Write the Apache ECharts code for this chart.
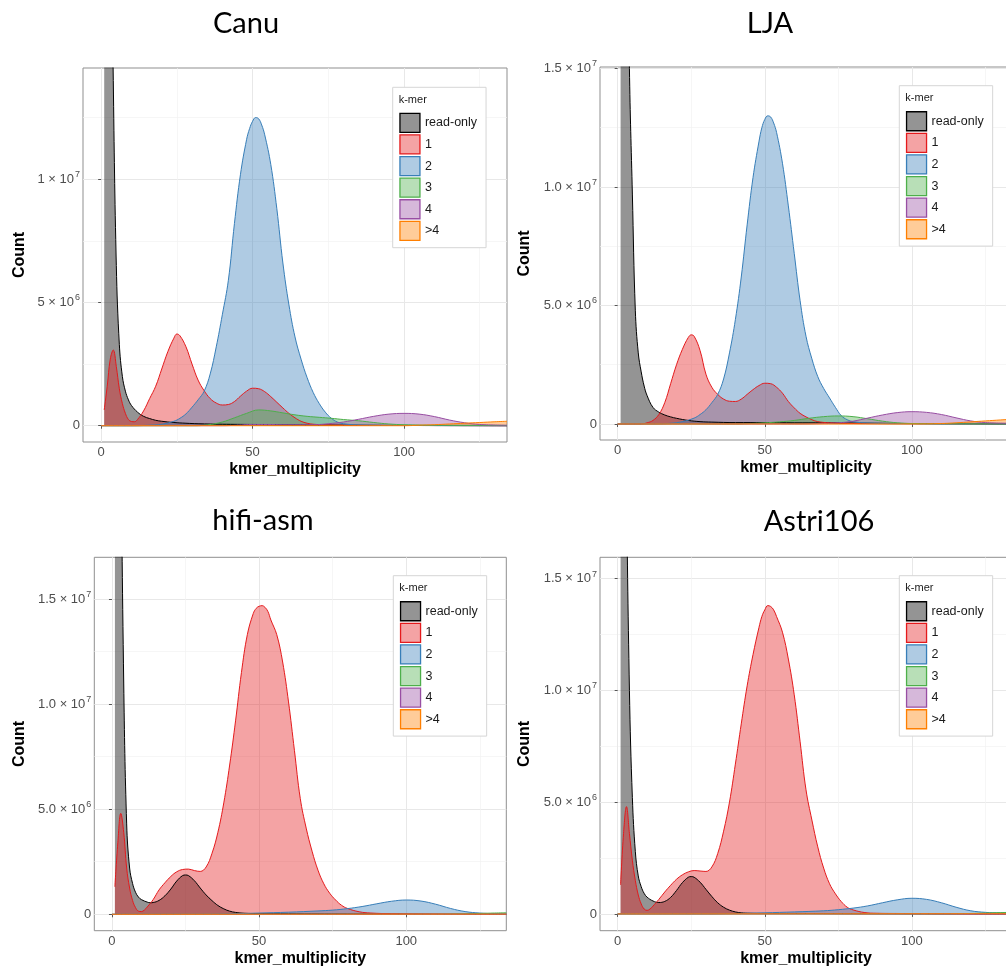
<!DOCTYPE html>
<html>
<head>
<meta charset="utf-8">
<script src="https://cdn.jsdelivr.net/npm/echarts@6/dist/echarts.min.js"></script>
<style>
  html, body { margin: 0; padding: 0; overflow: hidden; background: #fff; }
  #chart { width: 1020px; height: 968px; }
</style>
</head>
<body>
<div id="chart"></div>
<script>
// k-mer classes and colours (ggplot Set1 style)
const kmerNames = ['read-only', '1', '2', '3', '4', '>4'];
const lineColors = ['#000000', '#E41A1C', '#377EB8', '#4DAF4A', '#984EA3', '#FF7F00'];
const fillColors = ['rgba(0,0,0,0.42)', 'rgba(228,26,28,0.4)', 'rgba(55,126,184,0.4)',
  'rgba(77,175,74,0.4)', 'rgba(152,78,163,0.4)', 'rgba(255,127,0,0.4)'];

const xTicks = [0, 50, 100];
const xMinorTicks = [25, 75, 125];
const canuYTicks = [0, 5e6, 1e7];
const canuYLabels = ['0', '5 × 10^6', '1 × 10^7'];
const yTicks = [0, 5e6, 1e7, 1.5e7];
const yLabels = ['0', '5.0 × 10^6', '1.0 × 10^7', '1.5 × 10^7'];
const yMinorTicks = [2.5e6, 7.5e6, 1.25e7];

// [kmer_multiplicity, count in millions]
const canuReadOnly = [[1,95],[2,48],[3,25],[4,14],[5,6.5],[6,3.3],[7,2.0],[8,1.4],[9,1.05],[10,0.82],[12,0.55],[14,0.38],[16,0.29],[18,0.22],[20,0.18],[24,0.13],[28,0.1],[32,0.08],[40,0.06],[50,0.05],[60,0.04],[70,0.03],[80,0.02],[100,0.01],[134,0]];
const canuK1 = [[1,0.64],[2,1.6],[3,2.7],[4,3.07],[5,2.4],[6,1.5],[7,0.9],[8,0.5],[9,0.25],[10,0.17],[11,0.16],[12,0.25],[14,0.6],[16,1.1],[18,1.6],[20,2.3],[22,3.0],[24,3.55],[25,3.72],[26,3.65],[28,3.2],[30,2.5],[32,1.85],[34,1.42],[36,1.1],[38,0.92],[40,0.84],[42,0.86],[44,0.98],[46,1.2],[48,1.4],[50,1.52],[52,1.5],[54,1.38],[56,1.18],[58,0.95],[60,0.72],[62,0.5],[64,0.32],[66,0.18],[68,0.1],[70,0.06],[75,0.03],[80,0.02],[100,0.01],[134,0]];
const canuK2 = [[0,0],[10,0],[16,0.02],[20,0.06],[24,0.18],[26,0.3],[28,0.48],[30,0.75],[32,1.05],[34,1.4],[36,2.1],[38,3.2],[40,4.5],[42,5.9],[44,8.2],[46,10.2],[48,11.6],[49,12.05],[50,12.35],[51,12.5],[52,12.45],[53,12.2],[54,11.8],[56,10.6],[58,8.8],[60,6.6],[62,4.9],[64,3.6],[66,2.7],[68,1.95],[70,1.35],[72,0.9],[74,0.55],[76,0.3],[78,0.15],[80,0.08],[85,0.03],[100,0.01],[134,0]];
const canuK3 = [[0,0],[30,0],[35,0.03],[40,0.15],[44,0.32],[48,0.5],[52,0.64],[56,0.6],[60,0.52],[64,0.44],[68,0.38],[72,0.34],[76,0.3],[80,0.25],[85,0.2],[90,0.13],[95,0.07],[100,0.04],[110,0.02],[134,0.01]];
const canuK4 = [[0,0],[40,0],[45,0.02],[50,0.05],[55,0.05],[60,0.04],[70,0.04],[75,0.08],[80,0.15],[85,0.26],[90,0.38],[95,0.47],[100,0.5],[105,0.47],[110,0.37],[115,0.23],[120,0.12],[125,0.05],[134,0.02]];
const canuK5 = [[0,0],[100,0],[105,0.02],[110,0.04],[115,0.07],[120,0.1],[125,0.13],[130,0.16],[134,0.18]];

const ljaReadOnly = [[1,95],[2,50],[3,26],[4,15],[5,9.7],[6,4.8],[7,3.0],[8,2.2],[9,1.6],[10,1.2],[12,0.7],[14,0.5],[16,0.38],[18,0.3],[20,0.24],[24,0.15],[28,0.1],[32,0.08],[40,0.06],[50,0.06],[60,0.05],[70,0.05],[80,0.04],[90,0.03],[100,0.02],[134,0]];
const ljaK1 = [[0,0],[8,0],[10,0.05],[12,0.15],[14,0.4],[16,0.9],[18,1.7],[20,2.5],[22,3.15],[24,3.65],[25,3.76],[26,3.7],[28,3.1],[30,2.1],[32,1.55],[34,1.25],[36,1.05],[38,0.96],[40,0.95],[42,1.05],[44,1.25],[46,1.45],[48,1.62],[50,1.72],[52,1.7],[54,1.55],[56,1.3],[58,0.95],[60,0.68],[62,0.45],[64,0.3],[66,0.18],[68,0.1],[72,0.05],[80,0.02],[100,0.01],[134,0]];
const ljaK2 = [[0,0],[12,0],[18,0.03],[22,0.1],[26,0.25],[28,0.4],[30,0.6],[32,0.9],[34,1.25],[36,1.9],[38,3.0],[40,4.4],[42,6.2],[44,8.4],[46,10.4],[48,11.9],[49,12.5],[50,12.85],[51,13.0],[52,12.95],[53,12.7],[54,12.3],[56,11.0],[58,9.2],[60,7.2],[62,5.2],[64,3.7],[66,2.75],[68,2.0],[70,1.5],[72,1.1],[74,0.7],[76,0.35],[78,0.18],[80,0.1],[85,0.04],[100,0.01],[134,0]];
const ljaK3 = [[0,0],[40,0],[45,0.02],[50,0.05],[55,0.09],[60,0.15],[65,0.24],[70,0.31],[75,0.34],[80,0.31],[85,0.22],[90,0.12],[95,0.05],[100,0.02],[110,0.01],[134,0]];
const ljaK4 = [[0,0],[60,0],[70,0.02],[75,0.05],[80,0.12],[85,0.25],[90,0.38],[95,0.48],[100,0.52],[105,0.49],[110,0.4],[115,0.26],[120,0.13],[125,0.06],[134,0.03]];
const ljaK5 = [[0,0],[100,0],[110,0.02],[115,0.05],[120,0.09],[125,0.13],[130,0.17],[134,0.2]];

const hifiReadOnly = [[1,90],[2,45],[3,24],[4,11],[5,4.3],[6,2.2],[7,1.47],[8,1.05],[9,0.82],[10,0.7],[12,0.58],[13,0.55],[14,0.56],[16,0.66],[18,0.88],[20,1.2],[22,1.58],[24,1.84],[25,1.87],[26,1.84],[28,1.6],[30,1.25],[32,0.92],[34,0.65],[36,0.42],[38,0.26],[40,0.15],[42,0.09],[45,0.05],[50,0.03],[60,0.02],[80,0.01],[134,0]];
const hifiK1 = [[1,1.31],[2,3.4],[3,4.8],[4,3.9],[5,2.2],[6,1.25],[7,0.66],[8,0.32],[9,0.15],[10,0.13],[11,0.2],[12,0.35],[14,0.7],[16,1.16],[18,1.5],[20,1.8],[22,2.02],[24,2.13],[26,2.15],[28,2.08],[30,2.04],[32,2.25],[34,2.9],[36,3.9],[38,5.3],[40,7.1],[42,9.2],[44,11.5],[46,13.3],[48,14.3],[49,14.55],[50,14.65],[51,14.68],[52,14.6],[53,14.4],[54,14.0],[56,13.3],[58,12.0],[60,10.1],[62,7.8],[64,5.5],[66,4.1],[68,3.0],[70,2.1],[72,1.45],[74,1.0],[76,0.68],[78,0.43],[80,0.28],[84,0.12],[88,0.06],[95,0.03],[110,0.01],[134,0]];
const hifiK2 = [[0,0],[30,0],[40,0.02],[50,0.06],[60,0.1],[70,0.16],[75,0.2],[80,0.27],[85,0.37],[90,0.5],[95,0.62],[100,0.68],[105,0.63],[110,0.48],[115,0.28],[120,0.13],[125,0.06],[130,0.03],[134,0.02]];
const hifiK3 = [[0,0],[110,0],[120,0.02],[125,0.04],[130,0.06],[134,0.07]];
const hifiK4 = [[0,0],[134,0]];
const hifiK5 = [[0,0],[134,0.01]];

const astriReadOnly = [[1,90],[2,42],[3,20],[4,10],[5,5.2],[6,2.8],[7,1.7],[8,1.22],[9,0.92],[10,0.75],[12,0.58],[14,0.51],[16,0.56],[18,0.74],[20,1.05],[22,1.4],[24,1.64],[25,1.67],[26,1.64],[28,1.42],[30,1.1],[32,0.78],[34,0.5],[36,0.3],[38,0.17],[40,0.09],[42,0.05],[45,0.03],[50,0.02],[60,0.02],[80,0.01],[134,0]];
const astriK1 = [[1,1.3],[2,3.6],[3,4.8],[4,3.6],[5,2.4],[6,1.5],[7,0.85],[8,0.45],[9,0.22],[10,0.16],[11,0.22],[12,0.35],[14,0.65],[16,0.98],[18,1.28],[20,1.55],[22,1.75],[24,1.88],[26,1.94],[28,1.92],[30,1.9],[32,2.1],[34,2.7],[36,3.7],[38,5.0],[40,6.7],[42,8.5],[44,10.2],[46,11.6],[48,12.8],[49,13.3],[50,13.6],[51,13.79],[52,13.75],[53,13.6],[54,13.3],[56,12.6],[58,11.4],[60,9.8],[62,7.7],[64,5.55],[66,4.2],[68,3.0],[70,2.05],[72,1.35],[74,0.9],[76,0.55],[78,0.3],[80,0.18],[84,0.06],[88,0.03],[95,0.02],[110,0.01],[134,0]];
const astriK2 = [[0,0],[30,0],[40,0.02],[50,0.05],[60,0.09],[70,0.14],[75,0.19],[80,0.26],[85,0.36],[90,0.5],[95,0.63],[100,0.7],[105,0.65],[110,0.5],[115,0.3],[120,0.14],[125,0.07],[130,0.04],[134,0.03]];
const astriK3 = [[0,0],[110,0],[120,0.02],[125,0.04],[130,0.06],[134,0.07]];
const astriK4 = [[0,0],[134,0]];
const astriK5 = [[0,0],[134,0.01]];

// panel layout
const panels = [
  { title: 'Canu', tx: 246, ty: 24, left: 83, top: 68, width: 424, height: 374,
    ymin: -0.661e6, ymax: 14.51e6, ticks: canuYTicks, labels: canuYLabels, nameGap: 55,
    lx: 392.7, ly: 87.3,
    series: [canuReadOnly, canuK1, canuK2, canuK3, canuK4, canuK5] },
  { title: 'LJA', tx: 770, ty: 24, left: 600, top: 67, width: 412, height: 373,
    ymin: -0.675e6, ymax: 15.06e6, ticks: yTicks, labels: yLabels, nameGap: 67,
    lx: 899.3, ly: 85.7,
    series: [ljaReadOnly, ljaK1, ljaK2, ljaK3, ljaK4, ljaK5] },
  { title: 'hifi-asm', tx: 263, ty: 521, left: 94.3, top: 557.3, width: 412, height: 373.4,
    ymin: -0.78e6, ymax: 16.98e6, ticks: yTicks, labels: yLabels, nameGap: 67,
    lx: 393.3, ly: 575.7,
    series: [hifiReadOnly, hifiK1, hifiK2, hifiK3, hifiK4, hifiK5] },
  { title: 'Astri106', tx: 819, ty: 522, left: 600, top: 557.3, width: 412, height: 373.4,
    ymin: -0.75e6, ymax: 15.95e6, ticks: yTicks, labels: yLabels, nameGap: 67,
    lx: 899.3, ly: 575.7,
    series: [astriReadOnly, astriK1, astriK2, astriK3, astriK4, astriK5] }
];

const tickText = '#4d4d4d';
const axisFont = 'Liberation Sans, Arial, sans-serif';

function yFormatter(ticks, labels) {
  return (v) => {
    const i = ticks.indexOf(v);
    if (i < 0) return '';
    const s = labels[i];
    if (s.indexOf('^') < 0) return '{m|' + s + '}';
    const parts = s.split('^');
    return '{m|' + parts[0] + '}{s|' + parts[1] + '}';
  };
}

const option = {
  animation: false,
  backgroundColor: '#fff',
  title: [],
  legend: [],
  grid: [],
  xAxis: [],
  yAxis: [],
  series: []
};

panels.forEach((p, i) => {
  option.title.push({
    text: p.title, left: p.tx, top: p.ty, textAlign: 'center', textVerticalAlign: 'middle',
    padding: 0,
    textStyle: { fontFamily: 'Lato, sans-serif', fontSize: 29, fontWeight: 'normal', color: '#000' }
  });
  option.title.push({
    text: 'k-mer', left: p.lx + 6, top: p.ly + 7, padding: 0,
    textStyle: { fontFamily: axisFont, fontSize: 11, fontWeight: 'normal', color: '#1a1a1a' }
  });
  option.legend.push({
    orient: 'vertical', left: p.lx, top: p.ly,
    padding: [25.4, 9, 6.7, 6.6],
    itemWidth: 20, itemHeight: 19, itemGap: 1.3,
    icon: 'rect', selectedMode: false,
    backgroundColor: '#fff', borderColor: '#d6d6d6', borderWidth: 1,
    textStyle: { fontFamily: axisFont, fontSize: 12.5, color: '#1a1a1a' },
    data: kmerNames.map((n, k) => ({
      name: n,
      itemStyle: { color: fillColors[k], borderColor: lineColors[k], borderWidth: 1.3 }
    }))
  });
  option.grid.push({
    left: p.left, top: p.top, width: p.width, height: p.height,
    show: true, borderColor: '#8f8f8f', borderWidth: 1, backgroundColor: 'transparent'
  });
  // main x axis
  option.xAxis.push({
    type: 'value', gridIndex: i, min: -6, max: 134,
    name: 'kmer_multiplicity', nameLocation: 'middle', nameGap: 20,
    nameTextStyle: { fontFamily: axisFont, fontSize: 16, fontWeight: 'bold', color: '#000' },
    axisLine: { show: false },
    axisTick: { show: true, length: 3, customValues: xTicks, lineStyle: { color: '#555' } },
    axisLabel: { customValues: xTicks, margin: 4, fontFamily: axisFont, fontSize: 13, color: tickText },
    splitLine: { show: true, lineStyle: { color: '#e8e8e8', width: 1 } }
  });
  // minor x grid
  option.xAxis.push({
    type: 'value', gridIndex: i, min: -6, max: 134,
    axisLine: { show: false }, axisLabel: { show: false },
    axisTick: { show: false, customValues: xMinorTicks },
    splitLine: { show: true, lineStyle: { color: '#f2f2f2', width: 0.7 } }
  });
  option.yAxis.push({
    type: 'value', gridIndex: i, min: p.ymin, max: p.ymax,
    name: 'Count', nameLocation: 'middle', nameGap: p.nameGap, nameRotate: 90,
    nameTextStyle: { fontFamily: axisFont, fontSize: 16, fontWeight: 'bold', color: '#000' },
    axisLine: { show: false },
    axisTick: { show: true, length: 3, customValues: p.ticks, lineStyle: { color: '#555' } },
    axisLabel: {
      customValues: p.ticks, margin: 3,
      formatter: yFormatter(p.ticks, p.labels),
      rich: {
        m: { fontFamily: axisFont, fontSize: 13, color: tickText },
        s: { fontFamily: axisFont, fontSize: 9, color: tickText, verticalAlign: 'top', padding: [0, 0, 9, 1] }
      }
    },
    splitLine: { show: true, lineStyle: { color: '#e8e8e8', width: 1 } }
  });
  option.yAxis.push({
    type: 'value', gridIndex: i, min: p.ymin, max: p.ymax,
    axisLine: { show: false }, axisLabel: { show: false },
    axisTick: { show: false, customValues: yMinorTicks },
    splitLine: { show: true, lineStyle: { color: '#f2f2f2', width: 0.7 } }
  });
  p.series.forEach((pts, k) => {
    option.series.push({
      name: kmerNames[k],
      type: 'line',
      xAxisIndex: 2 * i, yAxisIndex: 2 * i,
      data: pts.map(d => [d[0], d[1] * 1e6]),
      smooth: 0.4,
      symbol: 'none',
      silent: true,
      clip: true,
      lineStyle: { color: lineColors[k], width: 1 },
      itemStyle: { color: lineColors[k] },
      areaStyle: { color: fillColors[k], opacity: 1 }
    });
  });
});

const chart = echarts.init(document.getElementById('chart'), null, { renderer: 'canvas' });
chart.setOption(option);
</script>
</body>
</html>
